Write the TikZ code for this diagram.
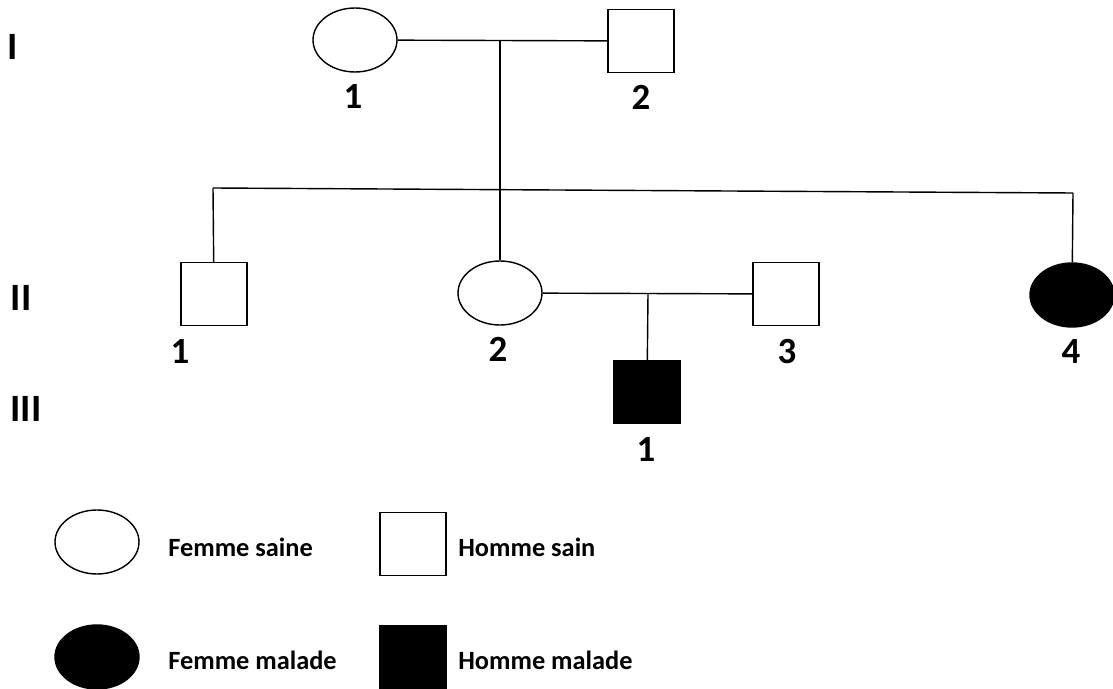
\documentclass[tikz,border=0pt]{standalone}
\usepackage{fontspec}
\setmainfont{Carlito}
\usetikzlibrary{shapes.geometric,positioning}

\begin{document}
\begin{tikzpicture}[x=0.02cm, y=-0.02cm,
        femme/.style={ellipse, draw=black, thick, inner sep=0pt, minimum width=1.68cm, minimum height=1.28cm, fill=white},
        homme/.style={rectangle, draw=black, thick, inner sep=0pt, minimum width=1.32cm, minimum height=1.26cm, fill=white},
        malade/.style={fill=black},
        num/.style={font=\fontsize{21}{23}\selectfont\bfseries, inner sep=0pt},
        gen/.style={font=\fontsize{22}{24}\selectfont\bfseries, inner sep=0pt},
        legende/.style={font=\fontsize{15}{17}\selectfont\bfseries, anchor=west, inner sep=0pt},
        lien/.style={thick, black}]

        \useasboundingbox (0,0) rectangle (1113,689);

        % generations
        \node[gen] (gen1) at (13,47) {I};
        \node[gen] (gen2) at (21,298) {II};
        \node[gen] (gen3) at (26,409) {III};

        % generation I
        \node[femme] (i1) at (355,40) {};
        \node[homme] (i2) at (641,41) {};
        \node[num] (n-i1) at (353,97) {1};
        \node[num] (n-i2) at (641,97) {2};

        % generation II
        \node[homme] (ii1) at (214,294) {};
        \node[femme] (ii2) at (500,293) {};
        \node[homme] (ii3) at (786,294) {};
        \node[femme, malade] (ii4) at (1072,295) {};
        \node[num] (n-ii1) at (180,352) {1};
        \node[num] (n-ii2) at (498,349) {2};
        \node[num] (n-ii3) at (787,352) {3};
        \node[num] (n-ii4) at (1071,352) {4};

        % generation III
        \node[homme, malade] (iii1) at (647,392) {};
        \node[num] (n-iii1) at (646,450) {1};

        \coordinate (m1) at (500,40);
        \coordinate (sibL) at (213,188);
        \coordinate (sibR) at (1073,193);
        \coordinate (m2) at (648,294);

        \draw[lien] (i1) -- (i2);
        \draw[lien] (m1) -- (ii2);
        \draw[lien] (sibL) -- (sibR);
        \draw[lien] (sibL) -- (ii1);
        \draw[lien] (sibR) -- (ii4);
        \draw[lien] (ii2) -- (ii3);
        \draw[lien] (m2) -- (iii1);

        % legende
        \node[femme] (lg-fs) at (97,542) {};
        \node[legende] (t-fs) at (168,547) {Femme saine};
        \node[homme] (lg-hs) at (413,544) {};
        \node[legende] (t-hs) at (458,547) {Homme sain};
        \node[femme, malade] (lg-fm) at (97,657) {};
        \node[legende] (t-fm) at (168,660) {Femme malade};
        \node[homme, malade] (lg-hm) at (413,657) {};
        \node[legende] (t-hm) at (458,660) {Homme malade};

    \end{tikzpicture}
\end{document}
